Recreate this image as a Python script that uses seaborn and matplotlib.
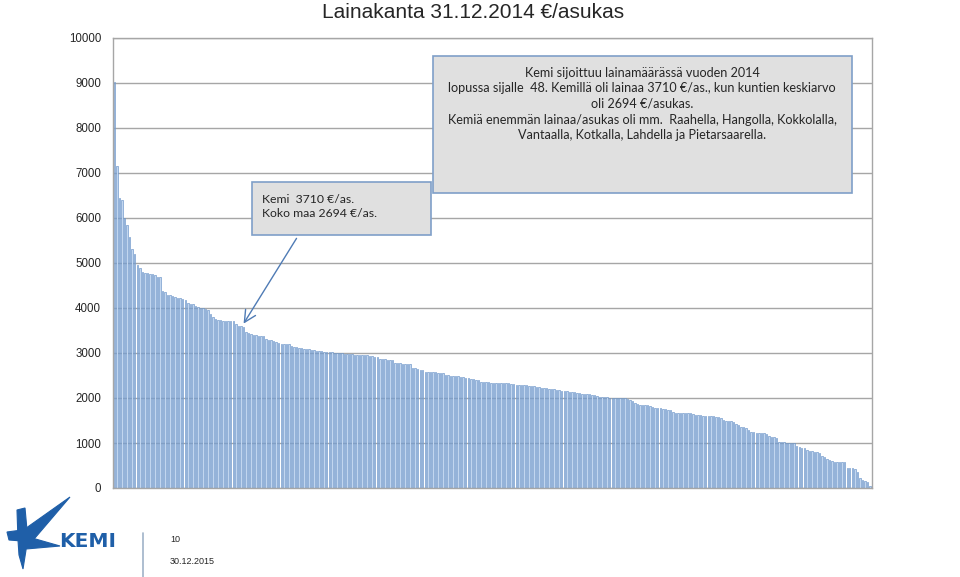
import matplotlib
matplotlib.use("Agg")
import matplotlib.pyplot as plt
from matplotlib.patches import Polygon, Rectangle
import seaborn as sns
import pandas as pd

# ---- data ----
title = "Lainakanta 31.12.2014 €/asukas"
values = [
    9020, 7150, 6450, 6400, 6000, 5850, 5580, 5310, 5200, 4950,
    4890, 4800, 4780, 4770, 4760, 4750, 4730, 4700, 4690, 4370,
    4350, 4300, 4280, 4270, 4250, 4230, 4220, 4200, 4180, 4120,
    4100, 4080, 4050, 4020, 4000, 3990, 3970, 3950, 3870, 3800,
    3760, 3740, 3730, 3720, 3715, 3712, 3711, 3710, 3640, 3610,
    3600, 3580, 3470, 3440, 3420, 3400, 3390, 3380, 3375, 3370,
    3320, 3300, 3290, 3270, 3240, 3220, 3210, 3200, 3195, 3190,
    3160, 3140, 3130, 3120, 3110, 3100, 3090, 3080, 3075, 3070,
    3050, 3040, 3035, 3030, 3025, 3020, 3015, 3010, 3000, 2995,
    2990, 2985, 2980, 2975, 2970, 2965, 2960, 2958, 2955, 2952,
    2950, 2940, 2930, 2920, 2910, 2870, 2865, 2860, 2850, 2845,
    2840, 2780, 2775, 2770, 2765, 2760, 2755, 2750, 2670, 2660,
    2650, 2630, 2620, 2580, 2578, 2575, 2572, 2570, 2565, 2562,
    2560, 2510, 2505, 2500, 2495, 2490, 2480, 2475, 2470, 2440,
    2435, 2430, 2420, 2410, 2400, 2360, 2355, 2350, 2345, 2340,
    2338, 2335, 2332, 2330, 2330, 2328, 2325, 2320, 2310, 2300,
    2295, 2290, 2285, 2280, 2270, 2265, 2260, 2250, 2240, 2230,
    2225, 2220, 2210, 2200, 2190, 2180, 2170, 2165, 2160, 2150,
    2140, 2130, 2125, 2120, 2110, 2100, 2095, 2090, 2080, 2075,
    2070, 2040, 2020, 2018, 2015, 2012, 2010, 2008, 2005, 2003,
    2000, 1998, 1995, 1980, 1960, 1940, 1880, 1860, 1850, 1845,
    1840, 1835, 1830, 1790, 1780, 1775, 1770, 1760, 1750, 1740,
    1730, 1680, 1675, 1672, 1670, 1668, 1665, 1662, 1660, 1655,
    1630, 1620, 1615, 1610, 1605, 1600, 1595, 1590, 1585, 1580,
    1560, 1510, 1500, 1490, 1480, 1470, 1430, 1400, 1360, 1345,
    1330, 1290, 1240, 1235, 1230, 1225, 1220, 1215, 1200, 1160,
    1130, 1125, 1110, 1020, 1015, 1012, 1010, 1005, 1002, 1000,
    930, 915, 900, 890, 840, 830, 820, 810, 795, 780,
    720, 690, 650, 620, 590, 585, 582, 580, 578, 575,
    450, 440, 435, 430, 360, 220, 180, 150, 130, 40,
]
ranks = list(range(1, len(values) + 1))
y_ticks = [0, 1000, 2000, 3000, 4000, 5000, 6000, 7000, 8000, 9000, 10000]
box_small = "Kemi  3710 €/as.\nKoko maa 2694 €/as."
box_big = ("Kemi sijoittuu lainamäärässä vuoden 2014\n"
           "lopussa sijalle  48. Kemillä oli lainaa 3710 €/as., kun kuntien keskiarvo\n"
           "oli 2694 €/asukas.\n"
           "Kemiä enemmän lainaa/asukas oli mm.  Raahella, Hangolla, Kokkolalla,\n"
           "Vantaalla, Kotkalla, Lahdella ja Pietarsaarella.")
kemi_rank = 48
page_no = "10"
date_txt = "30.12.2015"

df = pd.DataFrame({"rank": ranks, "value": values})

# ---- figure ----
sns.set_theme(style="white")
plt.rcParams["font.family"] = ["Liberation Sans", "DejaVu Sans"]

W, H = 960, 577
fig = plt.figure(figsize=(W / 100, H / 100), dpi=100)
fig.patch.set_facecolor("white")

def fx(px):
    return px / W

def fy(py):
    return 1 - py / H

ax = fig.add_axes([fx(113), fy(488), fx(872) - fx(113), fy(38) - fy(488)])
sns.barplot(data=df, x="rank", y="value", ax=ax, color="#c2d6ef",
            edgecolor="#5a88c2", linewidth=0.4, width=0.58,
            errorbar=None, saturation=1)
ax.set_ylim(0, 10000)
ax.set_xlim(-0.6, len(values) - 0.2)
ax.set_yticks(y_ticks)
ax.set_yticklabels([str(t) for t in y_ticks], fontsize=8.3)
ax.set_xticks([])
ax.set_xlabel("")
ax.set_ylabel("")
ax.tick_params(axis="y", length=0, pad=8.6)
ax.yaxis.grid(True, color="#a6a6a6", linewidth=1.0)
ax.set_axisbelow(True)
for side in ["left", "right", "bottom", "top"]:
    ax.spines[side].set_visible(True)
    ax.spines[side].set_color("#a6a6a6")
    ax.spines[side].set_linewidth(1.0)

# title
fig.text(fx(473), fy(12), title, ha="center", va="center", fontsize=15)

# small box
fig.patches.append(Rectangle((fx(252), fy(235)), fx(431) - fx(252), fy(182) - fy(235),
                             transform=fig.transFigure, facecolor="#e0e0e0",
                             edgecolor="#7f9fc8", linewidth=1.2, zorder=5))
fig.text(fx(262), fy(206.5), box_small, ha="left", va="center", fontsize=8.8,
         linespacing=1.3, family=["Lato", "DejaVu Sans"], zorder=6)

# big box
fig.patches.append(Rectangle((fx(433), fy(193)), fx(852) - fx(433), fy(56) - fy(193),
                             transform=fig.transFigure, facecolor="#e0e0e0",
                             edgecolor="#7f9fc8", linewidth=1.2, zorder=5))
fig.text(fx(642), fy(104), box_big, ha="center", va="center", fontsize=9.1,
         linespacing=1.36, family=["Lato", "DejaVu Sans"], zorder=6)

# arrow to Kemi bar
kemi_val = values[kemi_rank - 1]
ax.annotate("", xy=(kemi_rank - 1 + 3.5, kemi_val - 110), xycoords="data",
            xytext=(298, H - 236), textcoords="figure pixels",
            arrowprops=dict(arrowstyle="->,head_length=0.7,head_width=0.35",
                            color="#4f7bb5", linewidth=1.0),
            annotation_clip=False, zorder=7)

# footer: logo
logo_blue = "#1f5fa8"
shapes = [
    [(17, 510), (25, 508), (27, 530), (26, 550), (23, 569), (19, 555), (18, 540)],
    [(7, 532), (22, 530), (22, 541), (9, 540)],
    [(22, 531), (70, 497), (29, 545)],
    [(25, 536), (60, 546), (26, 549)],
]
for pts in shapes:
    fig.patches.append(Polygon([(fx(x), fy(y)) for x, y in pts], closed=True,
                               transform=fig.transFigure, facecolor=logo_blue,
                               edgecolor=logo_blue, linewidth=0.8, zorder=3))
fig.text(fx(59), fy(541.5), "KEMI", ha="left", va="center", fontsize=14.5,
         fontweight="bold", color=logo_blue, family=["DejaVu Sans"])
fig.lines.append(plt.Line2D([fx(143), fx(143)], [fy(533), fy(577)],
                            transform=fig.transFigure, color="#9fb3c8", linewidth=1.2))
fig.text(fx(170), fy(540), page_no, ha="left", va="center", fontsize=6.5)
fig.text(fx(170), fy(562), date_txt, ha="left", va="center", fontsize=6.5)

fig.savefig("out.png", dpi=100, facecolor="white")
